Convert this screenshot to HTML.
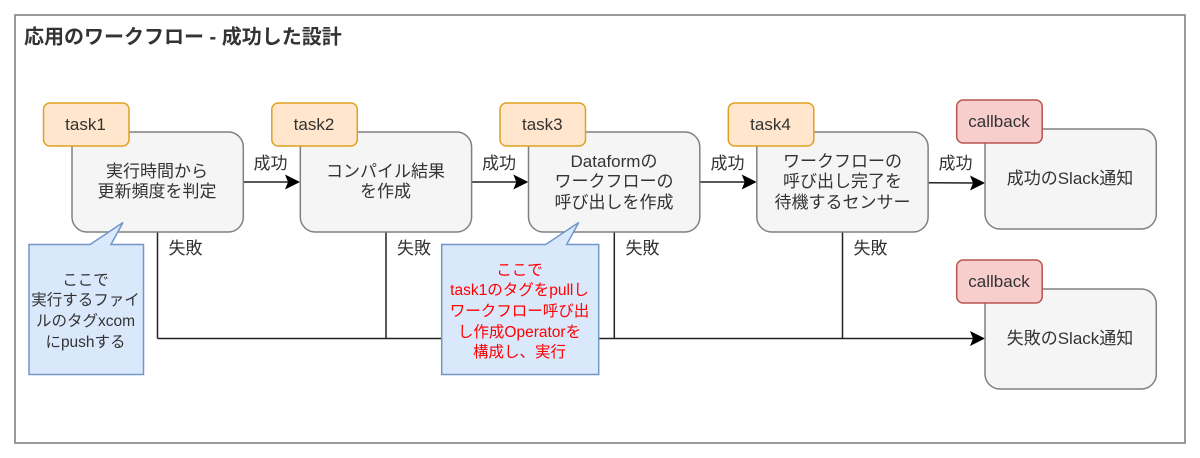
<!DOCTYPE html>
<html lang="ja">
<head>
<meta charset="utf-8">
<style>
html,body{margin:0;padding:0;background:#fff;width:1200px;height:458px;overflow:hidden}
svg{display:block;filter:blur(0.35px)}
text{font-family:"Liberation Sans","Noto Sans CJK JP",sans-serif;fill:#333;font-size:17px;text-anchor:middle}
.c{font-size:15.5px}
.r{fill:#ff0000}
.box{fill:#f5f5f5;stroke:#808080;stroke-width:1.5}
.tag{fill:#ffe6cc;stroke:#e0a020;stroke-width:1.5}
.cb{fill:#f8cecc;stroke:#b85450;stroke-width:1.5}
.call{fill:#dae8fc;stroke:#7396c8;stroke-width:1.5}
.l{fill:none;stroke:#222;stroke-width:1.5}
.a{fill:#000}
</style>
</head>
<body>
<svg width="1200" height="458" viewBox="0 0 1200 458" xmlns="http://www.w3.org/2000/svg">
<rect width="1200" height="458" fill="#fff"/>
<rect x="15" y="15" width="1170" height="428" fill="#fff" stroke="#808080" stroke-width="1.6"/>
<text x="24" y="43.500" style="font-size:20px;font-weight:bold;text-anchor:start">応用のワークフロー - 成功した設計</text>

<path class="l" d="M157.500 232V338.500M386 232V338.500M614.300 232V338.500M842.500 232V338.500M157.500 338.500H975"/>
<path class="l" d="M243 182H292M471.500 182H520M700 182H748.500M928 182.700L976 183"/>
<path class="a" d="M300 182L285 174.500L288 182L285 189.500ZM528.300 182L513.300 174.500L516.300 182L513.300 189.500ZM756.700 182L741.700 174.500L744.700 182L741.700 189.500ZM985 183L970 175.500L973 183L970 190.500ZM985 338.500L970 331L973 338.500L970 346Z"/>

<rect class="box" x="72" y="132" width="171.300" height="100" rx="15"/>
<rect class="box" x="300.300" y="132" width="171.300" height="100" rx="15"/>
<rect class="box" x="528.500" y="132" width="171.300" height="100" rx="15"/>
<rect class="box" x="756.800" y="132" width="171.300" height="100" rx="15"/>
<rect class="box" x="985" y="129" width="171.300" height="100" rx="15"/>
<rect class="box" x="985" y="289" width="171.300" height="100" rx="15"/>

<rect class="tag" x="43.500" y="103" width="85.500" height="43" rx="6.500"/>
<rect class="tag" x="271.800" y="103" width="85.500" height="43" rx="6.500"/>
<rect class="tag" x="500" y="103" width="85.500" height="43" rx="6.500"/>
<rect class="tag" x="728.300" y="103" width="85.500" height="43" rx="6.500"/>
<rect class="cb" x="956.700" y="100" width="85.500" height="43" rx="6.500"/>
<rect class="cb" x="956.700" y="260" width="85.500" height="43" rx="6.500"/>

<text x="85.500" y="130">task1</text>
<text x="314" y="130">task2</text>
<text x="542.300" y="130">task3</text>
<text x="770.500" y="130">task4</text>
<text x="999" y="127">callback</text>
<text x="999" y="287">callback</text>

<text x="157" y="177">実行時間から</text>
<text x="157" y="197">更新頻度を判定</text>
<text x="385.500" y="177">コンパイル結果</text>
<text x="385.500" y="197">を作成</text>
<text x="614" y="167">Dataformの</text>
<text x="614" y="187">ワークフローの</text>
<text x="614" y="208">呼び出しを作成</text>
<text x="842.500" y="167">ワークフローの</text>
<text x="842.500" y="187">呼び出し完了を</text>
<text x="842.500" y="208">待機するセンサー</text>
<text x="1070" y="184">成功のSlack通知</text>
<text x="1070" y="344">失敗のSlack通知</text>

<text x="270.500" y="169">成功</text>
<text x="499" y="169">成功</text>
<text x="727.500" y="169">成功</text>
<text x="955.500" y="169">成功</text>
<text x="185.500" y="254">失敗</text>
<text x="414" y="254">失敗</text>
<text x="642.500" y="254">失敗</text>
<text x="870.500" y="254">失敗</text>

<path class="call" d="M29 244.500H90L123 222.500L111 244.500H143.500V374.500H29Z"/>
<path class="call" d="M441.700 244.500H545.700L578.700 222.500L566.700 244.500H598.700V374.500H441.700Z"/>

<text class="c" x="85.500" y="285">ここで</text>
<text class="c" x="85.500" y="305">実行するファイ</text>
<text class="c" x="85.500" y="326">ルのタグxcom</text>
<text class="c" x="85.500" y="347">にpushする</text>

<text class="c r" x="519.500" y="275">ここで</text>
<text class="c r" x="519.500" y="295">task1のタグをpullし</text>
<text class="c r" x="519.500" y="316">ワークフロー呼び出</text>
<text class="c r" x="519.500" y="337">し作成Operatorを</text>
<text class="c r" x="519.500" y="357">構成し、実行</text>
</svg>
</body>
</html>
